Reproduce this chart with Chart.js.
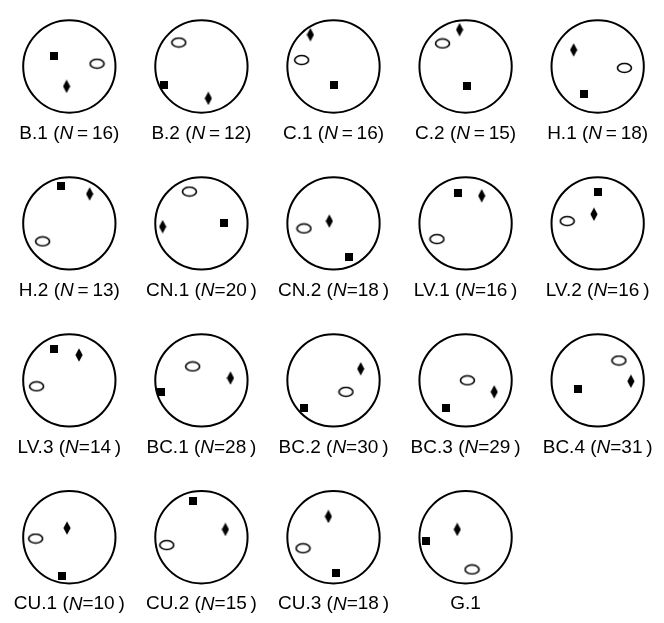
<!DOCTYPE html>
<html>
<head>
<meta charset="utf-8">
<script src="https://cdn.jsdelivr.net/npm/chart.js@4"></script>
<style>
  body { margin: 0; background: #fff; }
  #vis { display: block; }
</style>
</head>
<body>
<canvas id="vis" width="664" height="623"></canvas>
<script>
// site names and sample counts (G.1 has no N)
const sites = ['B.1', 'B.2', 'C.1', 'C.2', 'H.1', 'H.2', 'CN.1', 'CN.2', 'LV.1', 'LV.2',
  'LV.3', 'BC.1', 'BC.2', 'BC.3', 'BC.4', 'CU.1', 'CU.2', 'CU.3', 'G.1'];
const nValues = [16, 12, 16, 15, 18, 13, 20, 18, 16, 16, 14, 28, 30, 29, 31, 10, 15, 18, null];

// marker positions inside each net, in units of the net radius (x east, y north)
const squareX = [-0.33, -0.81, 0.00, 0.03, -0.29, -0.17, 0.50, 0.34, -0.16, 0.01,
  -0.33, -0.88, -0.63, -0.43, -0.42, -0.15, -0.19, 0.05, -0.85];
const squareY = [0.23, -0.40, -0.40, -0.43, -0.59, 0.82, 0.00, -0.72, 0.66, 0.69,
  0.69, -0.26, -0.60, -0.59, -0.19, -0.84, 0.79, -0.77, -0.08];
const diamondX = [-0.06, 0.15, -0.50, -0.13, -0.52, 0.44, -0.84, -0.09, 0.35, -0.08,
  0.21, 0.63, 0.59, 0.62, 0.72, -0.05, 0.52, -0.11, -0.18];
const diamondY = [-0.43, -0.69, 0.69, 0.80, 0.36, 0.64, -0.07, 0.05, 0.60, 0.20,
  0.55, 0.05, 0.25, -0.25, -0.02, 0.20, 0.17, 0.45, 0.17];
const ovalX = [0.60, -0.49, -0.69, -0.50, 0.58, -0.58, -0.26, -0.64, -0.62, -0.66,
  -0.71, -0.19, 0.27, 0.04, 0.46, -0.73, -0.75, -0.66, 0.14];
const ovalY = [0.06, 0.52, 0.14, 0.50, -0.03, -0.39, 0.69, -0.11, -0.34, 0.05,
  -0.13, 0.30, -0.25, 0.00, 0.43, -0.03, -0.17, -0.24, -0.70];

// grid of nets
const COLS = 5;
const COL_STEP = 2.862;
const ROW_STEP = 3.404;
const PX_PER_UNIT = 47;

function centre(i) {
  return { x: (i % COLS) * COL_STEP, y: -Math.floor(i / COLS) * ROW_STEP };
}
function place(xs, ys) {
  return sites.map((s, i) => {
    const c = centre(i);
    return { x: c.x + xs[i], y: c.y + ys[i] };
  });
}

// marker images
function makeSquare() {
  const c = document.createElement('canvas');
  c.width = 8; c.height = 8;
  const g = c.getContext('2d');
  g.fillStyle = '#000';
  g.fillRect(0, 0, 8, 8);
  return c;
}
function makeDiamond() {
  const c = document.createElement('canvas');
  c.width = 8; c.height = 14;
  const g = c.getContext('2d');
  g.fillStyle = '#000';
  g.beginPath();
  g.moveTo(4, 0.3); g.lineTo(7.6, 7); g.lineTo(4, 13.7); g.lineTo(0.4, 7);
  g.closePath();
  g.fill();
  return c;
}
function makeOval() {
  const c = document.createElement('canvas');
  c.width = 17; c.height = 12;
  const g = c.getContext('2d');
  g.strokeStyle = '#000';
  g.lineWidth = 1.6;
  g.beginPath();
  g.ellipse(8.5, 6, 7, 4.5, 0, 0, Math.PI * 2);
  g.stroke();
  return c;
}

const labelPlugin = {
  id: 'netLabels',
  afterDatasetsDraw(chart) {
    const ctx = chart.ctx;
    const sx = chart.scales.x, sy = chart.scales.y;
    const fam = "'Liberation Sans', Arial, sans-serif";
    const normal = '19px ' + fam, italic = 'italic 19px ' + fam;
    ctx.save();
    ctx.fillStyle = '#000';
    ctx.textBaseline = 'middle';
    ctx.textAlign = 'left';
    sites.forEach((s, i) => {
      const c = centre(i);
      const px = sx.getPixelForValue(c.x);
      const py = sy.getPixelForValue(c.y) + 67;
      let parts;
      if (nValues[i] == null) {
        parts = [[s, normal]];
      } else if (i < 6) {
        parts = [[s + ' (', normal], ['N', italic], ['\u2009=\u2009' + nValues[i] + ')', normal]];
      } else {
        parts = [[s + ' (', normal], ['N', italic], ['=' + nValues[i] + '\u2009)', normal]];
      }
      let w = 0;
      parts.forEach(p => { ctx.font = p[1]; w += ctx.measureText(p[0]).width; });
      let x = px - w / 2;
      parts.forEach(p => {
        ctx.font = p[1];
        ctx.fillText(p[0], x, py);
        x += ctx.measureText(p[0]).width;
      });
    });
    ctx.restore();
  }
};

const xMin = -64.5 / PX_PER_UNIT;
const yMax = 61.7 / PX_PER_UNIT;

const ctx = document.getElementById('vis').getContext('2d');
const chart = new Chart(ctx, {
  type: 'scatter',
  data: {
    datasets: [
      {
        label: 'net',
        data: sites.map((s, i) => centre(i)),
        pointStyle: 'circle',
        pointRadius: (c) => {
          const x = c.chart.scales.x;
          return x.getPixelForValue(1) - x.getPixelForValue(0);
        },
        backgroundColor: 'rgba(0,0,0,0)',
        borderColor: '#000',
        borderWidth: 2
      },
      { label: 'square', data: place(squareX, squareY), pointStyle: makeSquare(), pointRadius: 5 },
      { label: 'diamond', data: place(diamondX, diamondY), pointStyle: makeDiamond(), pointRadius: 5 },
      { label: 'oval', data: place(ovalX, ovalY), pointStyle: makeOval(), pointRadius: 5 }
    ]
  },
  options: {
    responsive: false,
    animation: false,
    events: [],
    layout: { padding: 0 },
    plugins: { legend: { display: false }, tooltip: { enabled: false } },
    scales: {
      x: { type: 'linear', display: false, min: xMin, max: xMin + 664 / PX_PER_UNIT },
      y: { type: 'linear', display: false, min: yMax - 623 / PX_PER_UNIT, max: yMax }
    }
  },
  plugins: [labelPlugin]
});
</script>
</body>
</html>
